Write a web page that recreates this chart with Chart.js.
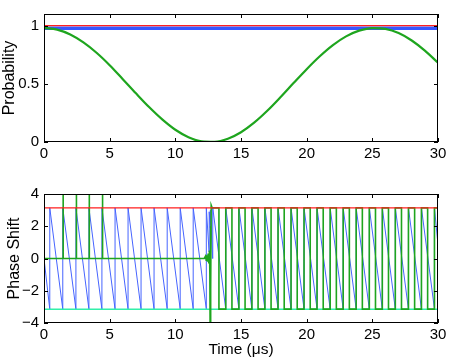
<!DOCTYPE html>
<html lang="en">
<head>
<meta charset="UTF-8" />
<title>Probability / Phase Shift</title>
<script src="https://cdn.jsdelivr.net/npm/chart.js"></script>
<style>
    body { margin: 0; background: #fff; }
    canvas { position: absolute; left: 0; }
    #chartProb { top: 0; }
    #chartPhase { top: 180px; }
</style>
</head>
<body>
<canvas id="chartProb" width="450" height="180"></canvas>
<canvas id="chartPhase" width="450" height="181"></canvas>

<script>
    const PI = Math.PI;

    // axes
    const xTicks = [0, 5, 10, 15, 20, 25, 30];
    const probTicks = [0, 0.5, 1];
    const phaseTicks = [-4, -2, 0, 2, 4];

    // top plot: probability
    const timeProb = [0, 1, 2, 3, 4, 5, 6, 7, 8, 9, 10, 11, 12, 13, 14, 15,
        16, 17, 18, 19, 20, 21, 22, 23, 24, 25, 26, 27, 28, 29, 30];
    const probGreen = [0.980, 0.966, 0.924, 0.856, 0.767, 0.660, 0.540, 0.418, 0.300, 0.194, 0.105,
        0.041, 0.006, 0.002, 0.028, 0.084, 0.166, 0.268, 0.384, 0.506, 0.626,
        0.737, 0.833, 0.908, 0.957, 0.979, 0.972, 0.936, 0.872, 0.785, 0.681];
    const probBlueT = [0, 30];
    const probBlue = [0.978, 0.978];
    const probRef = [1, 1];

    // bottom plot: phase (times where the blue phase wraps)
    const blueWrapLeft = [0.44, 1.43, 2.43, 3.42, 4.41, 5.41, 6.40, 7.39, 8.38, 9.38, 10.37, 11.36, 12.36];
    const blueNoiseT = [12.57, 12.58, 12.66, 12.67, 12.84];
    const blueNoiseY = [0.4, 2.9, 1.9, 3.0, 0.0];
    const blueWrapRight = [12.85, 13.84, 14.84, 15.83, 16.82, 17.82, 18.81, 19.80, 20.79, 21.79,
        22.78, 23.77, 24.77, 25.76, 26.75, 27.75, 28.74, 29.73];
    const blueEnd = 0.85;

    const greenSpikes = [1.46, 2.47, 3.45, 4.46];
    const greenNoiseT = [12.2, 12.3, 12.35, 12.4, 12.45, 12.5, 12.55, 12.6, 12.63, 12.65, 12.68, 12.70, 12.73, 12.77];
    const greenNoiseY = [0, 0.15, -0.1, 0.2, -0.2, 0.3, -0.3, 0.5, -1.0, -4.5, 2.0, -2.0, 3.3, 3.3];
    const greenUp = [12.80, 13.84, 14.84, 15.83, 16.82, 17.82, 18.81, 19.80, 20.79, 21.79,
        22.78, 23.77, 24.77, 25.76, 26.75, 27.75, 28.74, 29.73];
    const greenDown = [13.32, 14.31, 15.31, 16.30, 17.29, 18.29, 19.28, 20.27, 21.26, 22.26,
        23.25, 24.24, 25.24, 26.23, 27.22, 28.22, 29.21];

    const FONT = 'Liberation Sans, Arial, Helvetica, sans-serif';
    const RED = 'rgb(255,30,30)';
    const GREEN = 'rgb(30,165,30)';
    const BLUE = 'rgb(55,85,255)';
    const BLUE2 = 'rgb(70,100,255)';
    const CYAN = 'rgb(50,240,170)';

    function pts(xs, ys) {
        return xs.map((x, i) => ({ x: x, y: ys[i] }));
    }

    // blue sawtooth points
    const bluePhase = [{ x: 0, y: 0 }];
    blueWrapLeft.forEach(w => { bluePhase.push({ x: w, y: -PI }, { x: w, y: PI }); });
    bluePhase.push(...pts(blueNoiseT, blueNoiseY));
    blueWrapRight.forEach((w, i) => {
        if (i > 0) bluePhase.push({ x: w, y: -PI });
        bluePhase.push({ x: w, y: PI });
    });
    bluePhase.push({ x: 30, y: blueEnd });

    // green phase points
    const greenPhase = [{ x: 0, y: 0 }];
    greenSpikes.forEach(s => { greenPhase.push({ x: s, y: 0 }, { x: s, y: 5 }, { x: s, y: 0 }); });
    greenPhase.push(...pts(greenNoiseT, greenNoiseY));
    greenUp.forEach((u, i) => {
        if (i > 0) greenPhase.push({ x: u, y: -PI });
        greenPhase.push({ x: u, y: PI });
        if (i < greenDown.length) {
            greenPhase.push({ x: greenDown[i], y: PI }, { x: greenDown[i], y: -PI });
        }
    });
    greenPhase.push({ x: 30, y: PI });

    // black box with inward tick marks, like the original figure
    const boxTicks = {
        id: 'boxTicks',
        afterDatasetsDraw(chart) {
            const { ctx, chartArea: a, scales: { x, y } } = chart;
            ctx.save();
            ctx.strokeStyle = '#000';
            ctx.lineWidth = 1;
            ctx.beginPath();
            x.ticks.forEach(t => {
                const px = Math.round(x.getPixelForValue(t.value)) + 0.5;
                ctx.moveTo(px, a.bottom); ctx.lineTo(px, a.bottom - 4);
                ctx.moveTo(px, a.top); ctx.lineTo(px, a.top + 4);
            });
            y.ticks.forEach(t => {
                const py = Math.round(y.getPixelForValue(t.value)) + 0.5;
                ctx.moveTo(a.left, py); ctx.lineTo(a.left + 4, py);
                ctx.moveTo(a.right, py); ctx.lineTo(a.right - 4, py);
            });
            ctx.stroke();
            ctx.strokeRect(a.left + 0.5, a.top + 0.5, a.width - 1, a.height - 1);
            ctx.restore();
        }
    };

    function fmt(v) {
        return v < 0 ? '\u2212' + (-v) : String(v);
    }

    function xScale(title, pad) {
        return {
            type: 'linear', min: 0, max: 30,
            afterBuildTicks: s => { s.ticks = xTicks.map(v => ({ value: v })); },
            afterFit: s => { s.height = 38; },
            grid: { display: false, drawTicks: false },
            border: { display: false },
            ticks: { color: '#000', font: { family: FONT, size: 15 }, padding: 3, maxRotation: 0, autoSkip: false },
            title: { display: !!title, text: title, color: '#000', font: { family: FONT, size: 15.5 }, padding: { top: 0, bottom: pad } }
        };
    }

    function yScale(min, max, ticks, title, pad) {
        return {
            type: 'linear', min: min, max: max,
            afterBuildTicks: s => { s.ticks = ticks.map(v => ({ value: v })); },
            afterFit: s => { s.width = 44; },
            grid: { display: false, drawTicks: false },
            border: { display: false },
            ticks: { color: '#000', font: { family: FONT, size: 15 }, padding: 5, callback: fmt },
            title: { display: true, text: title, color: '#000', font: { family: FONT, size: 16 }, padding: { top: pad, bottom: 0 } }
        };
    }

    const probChart = new Chart(document.getElementById('chartProb'), {
        type: 'line',
        data: {
            datasets: [
                { data: pts([0, 30], probRef), borderColor: RED, borderWidth: 1.2 },
                { data: pts(timeProb, probGreen), borderColor: GREEN, borderWidth: 2.2, cubicInterpolationMode: 'monotone' },
                { data: pts(probBlueT, probBlue), borderColor: BLUE, borderWidth: 3.5 }
            ]
        },
        options: {
            responsive: false,
            animation: false,
            layout: { padding: { top: 12, right: 12, left: 0, bottom: 0 } },
            elements: { point: { radius: 0 }, line: { tension: 0 } },
            plugins: { legend: { display: false }, tooltip: { enabled: false } },
            scales: {
                x: xScale('', 0),
                y: yScale(0, 1.1, probTicks, 'Probability', 0)
            }
        },
        plugins: [boxTicks]
    });

    const phaseChart = new Chart(document.getElementById('chartPhase'), {
        type: 'line',
        data: {
            datasets: [
                { data: pts([0, 30], [PI, PI]), borderColor: RED, borderWidth: 1.2, clip: 0 },
                { data: greenPhase, borderColor: GREEN, borderWidth: 1.6, clip: 0 },
                { data: pts([0, 30], [-PI, -PI]), borderColor: CYAN, borderWidth: 1.5, clip: 0 },
                { data: bluePhase, borderColor: BLUE2, borderWidth: 1, clip: 0 }
            ]
        },
        options: {
            responsive: false,
            animation: false,
            layout: { padding: { top: 11, right: 12, left: 0, bottom: 0 } },
            elements: { point: { radius: 0 }, line: { tension: 0 } },
            plugins: { legend: { display: false }, tooltip: { enabled: false } },
            scales: {
                x: xScale('Time (\u03bcs)', 2),
                y: yScale(-4, 4, phaseTicks, 'Phase Shift', 5)
            }
        },
        plugins: [boxTicks]
    });
</script>
</body>
</html>
